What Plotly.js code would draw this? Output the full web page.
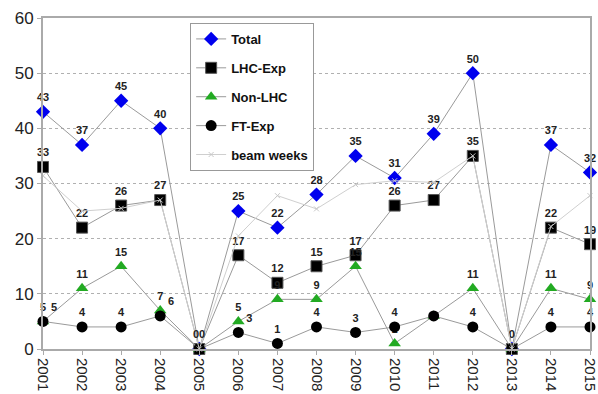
<!DOCTYPE html>
<html>
<head>
<meta charset="utf-8">
<script src="https://cdn.plot.ly/plotly-3.0.1.min.js"></script>
<style>html,body{margin:0;padding:0;background:#fff;}#chart{width:598px;height:394px;}</style>
</head>
<body>
<div id="chart"></div>
<script>
const years = [2001,2002,2003,2004,2005,2006,2007,2008,2009,2010,2011,2012,2013,2014,2015];
const total = [43,37,45,40,0,25,22,28,35,31,39,50,0,37,32];
const lhcExp = [33,22,26,27,0,17,12,15,17,26,27,35,0,22,19];
const nonLhc = [5,11,15,7,0,5,9,9,15,1,6,11,0,11,9];
const ftExp = [5,4,4,6,0,3,1,4,3,4,6,4,0,4,4];
const beamWeeks = [31.4,25.0,25.5,27,0,20.5,27.8,25.4,29.8,30.5,30.2,35,0,22.2,27.8];

const labelFont = {family:'Arial, Liberation Sans, sans-serif', size:11, color:'#222', weight:'bold'};
const lineGray = '#9a9a9a';

function labels(arr, skip){ return arr.map((v,i)=> (skip && skip.indexOf(i)>=0) ? '' : String(v)); }

// FT-Exp label placement: shifted right where it would collide
const ftPos = years.map((y,i)=> (i===0||i===3||i===5) ? 'top right' : 'top center');

const traces = [
  {x:years, y:total, name:'Total', legendgroup:'a', mode:'lines+markers+text', text:labels(total,[4]), textposition:'top center', textfont:labelFont,
   line:{color:lineGray, width:1}, marker:{symbol:'diamond', size:11, color:'#0000ee'}, cliponaxis:false},
  {x:years, y:lhcExp, name:'LHC-Exp', legendgroup:'b', mode:'lines+markers+text', text:labels(lhcExp,[4,12]), textposition:'top center', textfont:labelFont,
   line:{color:lineGray, width:1}, marker:{symbol:'square', size:11, color:'#000', line:{color:'#555', width:1}}, cliponaxis:false},
  {x:years, y:nonLhc, name:'Non-LHC', legendgroup:'c', mode:'lines+markers+text', text:labels(nonLhc,[4,10,12]), textposition:'top center', textfont:labelFont,
   line:{color:lineGray, width:1}, marker:{symbol:'triangle-up', size:11, color:'#22aa22'}, cliponaxis:false},
  {x:years, y:ftExp, name:'FT-Exp', legendgroup:'d', mode:'lines+markers+text', text:labels(ftExp,[4,10,12]), textposition:ftPos, textfont:labelFont,
   line:{color:lineGray, width:1}, marker:{symbol:'circle', size:11, color:'#000'}, cliponaxis:false},
  {x:years, y:beamWeeks, name:'beam weeks', legendgroup:'e', mode:'lines+markers',
   line:{color:'#cfcfcf', width:1}, marker:{symbol:'x-thin-open', size:5, color:'#c8c8c8', line:{color:'#c8c8c8', width:1}}, cliponaxis:false}
];

const yTickFont = {family:'Arial, Liberation Sans, sans-serif', size:17, color:'#222'};
const xTickFont = {family:'Arial, Liberation Sans, sans-serif', size:15, color:'#222'};

// the two overlapping zero labels at 2005
const annFont = {family:'Arial, Liberation Sans, sans-serif', size:11, color:'#222', weight:'bold'};
const annotations = [
  {x:years[4], y:total[4], text:String(total[4]), showarrow:false, xshift:-3, yshift:15, font:annFont},
  {x:years[4], y:ftExp[4], text:String(ftExp[4]), showarrow:false, xshift:3, yshift:15, font:annFont}
];

const layout = {
  width:598, height:394,
  margin:{l:43, r:8, t:18, b:45, pad:0},
  paper_bgcolor:'#fff', plot_bgcolor:'#fff',
  showlegend:true,
  annotations: annotations,
  legend:{x:0.269, y:0.985, xanchor:'left', yanchor:'top', bgcolor:'#fff', bordercolor:'#999', borderwidth:1,
          font:{family:'Arial, Liberation Sans, sans-serif', size:13, color:'#111', weight:'bold'}, tracegroupgap:9, traceorder:'grouped'},
  xaxis:{range:[2001,2015], tickvals:years, ticktext:years.map(String), tickangle:90, tickfont:xTickFont, ticklabeloverflow:'allow',
         showgrid:false, zeroline:false, showline:true, linecolor:'#aaa', linewidth:2, mirror:true,
         ticks:'outside', ticklen:4, tickcolor:'#aaa'},
  yaxis:{range:[0,60], dtick:10, tickfont:yTickFont, showgrid:true, gridcolor:'#b0b0b0', griddash:'dot', gridwidth:1,
         zeroline:false, showline:true, linecolor:'#aaa', linewidth:2, mirror:true, ticks:'outside', ticklen:4, tickcolor:'#aaa'}
};

Plotly.newPlot('chart', traces, layout, {displayModeBar:false, staticPlot:true});
</script>
</body>
</html>
